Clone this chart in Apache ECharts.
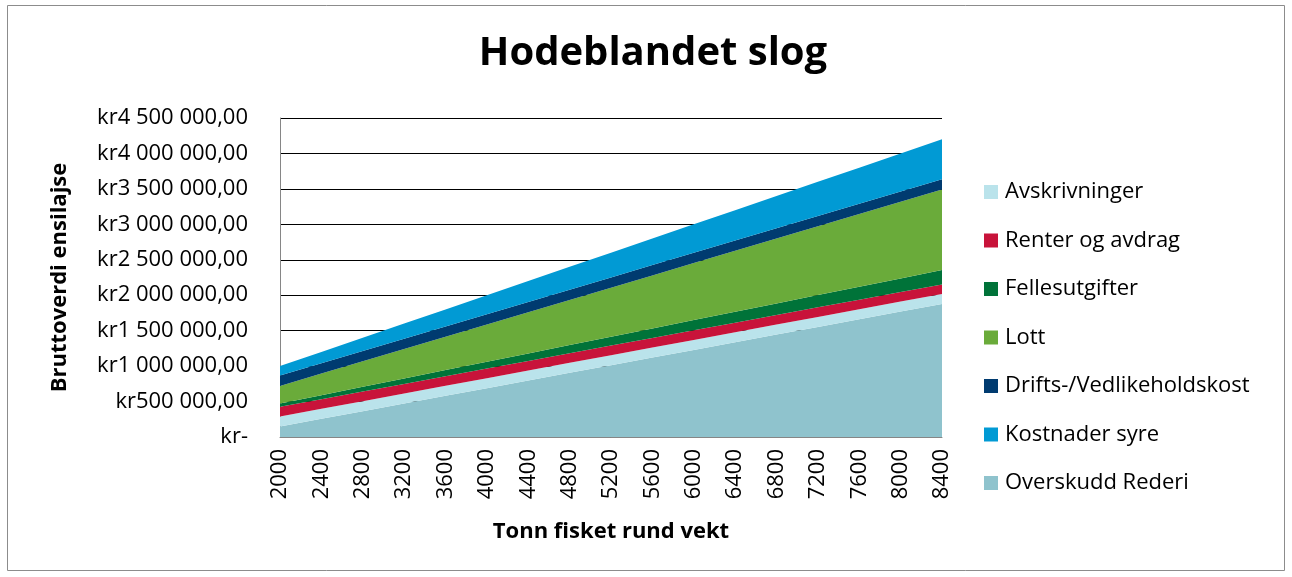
<!DOCTYPE html>
<html>
<head>
<meta charset="utf-8">
<script src="https://cdn.jsdelivr.net/npm/echarts@6/dist/echarts.min.js"></script>
<style>
html,body{margin:0;padding:0;background:#fff;}
#chart{width:1292px;height:577px;}
</style>
</head>
<body>
<div id="chart"></div>
<script>
const categories = ['2000','2400','2800','3200','3600','4000','4400','4800','5200','5600','6000','6400','6800','7200','7600','8000','8400'];
const overskuddRederi = [149000,257000,365000,473000,581000,689000,797000,905000,1013000,1121000,1229000,1337000,1445000,1553000,1661000,1769000,1877000];
const avskrivninger = [141000,141000,141000,141000,141000,141000,141000,141000,141000,141000,141000,141000,141000,141000,141000,141000,141000];
const renterOgAvdrag = [135000,135000,135000,135000,135000,135000,135000,135000,135000,135000,135000,135000,135000,135000,135000,135000,135000];
const fellesutgifter = [48000,57600,67200,76800,86400,96000,105600,115200,124800,134400,144000,153600,163200,172800,182400,192000,201600];
const lott = [248000,303600,359200,414800,470400,526000,581600,637200,692800,748400,804000,859600,915200,970800,1026400,1082000,1137600];
const driftsVedlikehold = [145000,145000,145000,145000,145000,145000,145000,145000,145000,145000,145000,145000,145000,145000,145000,145000,145000];
const kostnaderSyre = [134000,161000,188000,214000,241000,268000,295000,322000,348000,375000,402000,429000,456000,482000,509000,536000,563000];
const yTickLabels = {0:'kr-',500000:'kr500 000,00',1000000:'kr1 000 000,00',1500000:'kr1 500 000,00',2000000:'kr2 000 000,00',2500000:'kr2 500 000,00',3000000:'kr3 000 000,00',3500000:'kr3 500 000,00',4000000:'kr4 000 000,00',4500000:'kr4 500 000,00'};
const legendOrder = ['Avskrivninger','Renter og avdrag','Fellesutgifter','Lott','Drifts-/Vedlikeholdskost','Kostnader syre','Overskudd Rederi'];

const FONT = '"Open Sans", Lato, sans-serif';
const chart = echarts.init(document.getElementById('chart'), null, {renderer:'canvas'});

function area(name, data, color){
  return {
    name: name, type: 'line', stack: 'total', data: data,
    symbol: 'none', showSymbol: false,
    lineStyle: {width: 0, color: color},
    itemStyle: {color: color},
    areaStyle: {color: color, opacity: 1},
    emphasis: {disabled: true},
    animation: false
  };
}

chart.setOption({
  animation: false,
  backgroundColor: '#fff',
  title: {
    text: 'Hodeblandet slog',
    left: 648, top: 29, textAlign: 'center',
    textStyle: {fontFamily: FONT, fontSize: 40, fontWeight: 'bold', color: '#000'}
  },
  graphic: [{
    type: 'rect', shape: {x: 7.5, y: 5.5, width: 1277, height: 565},
    style: {fill: 'none', stroke: '#8c8c8c', lineWidth: 1}, silent: true
  }],
  legend: {
    data: legendOrder,
    orient: 'vertical',
    left: 979, top: 176,
    itemWidth: 14, itemHeight: 14, itemGap: 26.5,
    icon: 'rect',
    textStyle: {fontFamily: FONT, fontSize: 22, color: '#000', padding: [0,0,0,2]},
    selectedMode: false
  },
  grid: {left: 280, right: 350, top: 118, bottom: 140},
  xAxis: {
    type: 'category', data: categories, boundaryGap: false,
    name: 'Tonn fisket rund vekt', nameLocation: 'middle', nameGap: 84,
    nameTextStyle: {fontFamily: FONT, fontSize: 22, fontWeight: 'bold', color: '#000'},
    axisLine: {lineStyle: {color: '#868686', width: 1}},
    axisTick: {show: false},
    axisLabel: {rotate: 90, margin: 12, fontFamily: FONT, fontSize: 22, color: '#000', interval: 0}
  },
  yAxis: {
    type: 'value', min: 0, max: 4500000, interval: 500000,
    name: 'Bruttoverdi ensilajse', nameLocation: 'middle', nameGap: 209,
    nameTextStyle: {fontFamily: FONT, fontSize: 22, fontWeight: 'bold', color: '#000'},
    axisLine: {show: true, lineStyle: {color: '#868686', width: 1}},
    axisTick: {show: false},
    axisLabel: {margin: 32, fontFamily: FONT, fontSize: 22, color: '#000', formatter: v => yTickLabels[v] !== undefined ? yTickLabels[v] : ''},
    splitLine: {lineStyle: {color: '#000', width: 1}}
  },
  series: [
    area('Overskudd Rederi', overskuddRederi, '#8FC3CD'),
    area('Avskrivninger', avskrivninger, '#BAE3EB'),
    area('Renter og avdrag', renterOgAvdrag, '#C8133A'),
    area('Fellesutgifter', fellesutgifter, '#007339'),
    area('Lott', lott, '#6AAB3A'),
    area('Drifts-/Vedlikeholdskost', driftsVedlikehold, '#003B70'),
    area('Kostnader syre', kostnaderSyre, '#019AD4')
  ]
});
</script>
</body>
</html>
